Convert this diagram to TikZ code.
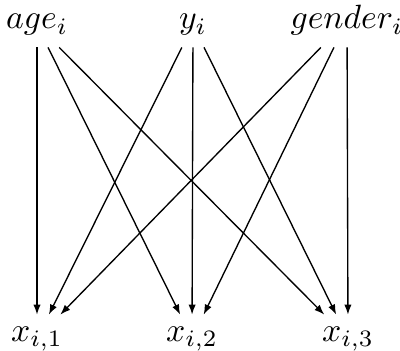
\documentclass[tikz,border=0pt]{standalone}
\usetikzlibrary{arrows.meta}
\begin{document}
\begin{tikzpicture}[x=0.297pt,y=-0.297pt,
  var/.style={anchor=base},
  edge/.style={-{Latex[length=3pt,width=2.2pt]}, line width=0.4pt}]
\useasboundingbox (0,0) rectangle (400,350);
\node[var] (age) at (37,29) {$age_i$};
\node[var] (y) at (193,29) {$y_i$};
\node[var] (gender) at (347,29) {$gender_i$};
\node[var] (x1) at (37,341) {$x_{i,1}$};
\node[var] (x2) at (192,341) {$x_{i,2}$};
\node[var] (x3) at (348,341) {$x_{i,3}$};
\foreach \s in {age,y,gender}{
  \foreach \t in {x1,x2,x3}{
    \draw[edge] (\s) -- (\t);
  }
}
\end{tikzpicture}
\end{document}
